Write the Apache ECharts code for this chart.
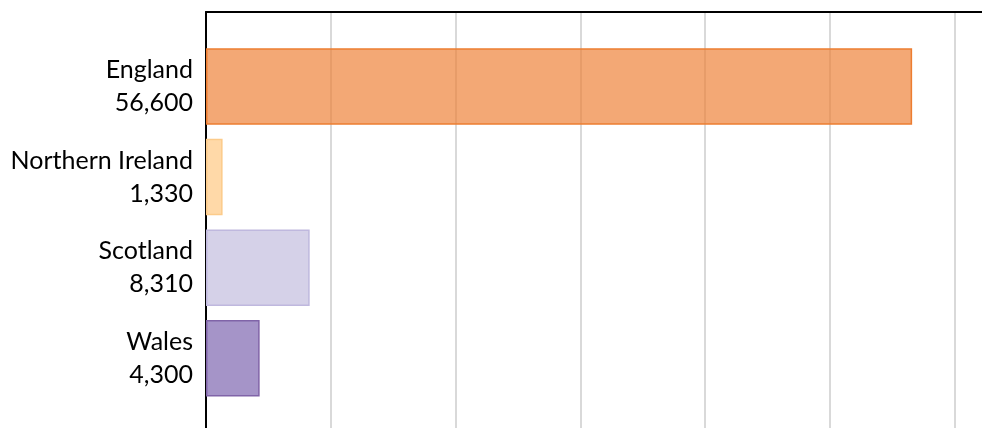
<!DOCTYPE html>
<html>
<head>
<meta charset="utf-8">
<script src="https://cdn.jsdelivr.net/npm/echarts@6/dist/echarts.min.js"></script>
<style>
html,body{margin:0;padding:0;background:#fff;}
#chart{width:982px;height:428px;}
</style>
</head>
<body>
<div id="chart"></div>
<script>
// ---- data ----
const categories = ['England', 'Northern Ireland', 'Scotland', 'Wales'];
const values = [56600, 1330, 8310, 4300];
const axisMax = 62200;
const axisInterval = 10000;

// ---- styles ----
const fills = ['rgba(237,125,49,0.67)', 'rgba(255,192,110,0.6)', '#D5D1E8', '#A594C8'];
const borders = ['#ED7D31', '#FCCB8A', '#BFB8DE', '#8064A8'];
const gridColors = ['#D9D9D9', '#D9D9D9', '#D9D9D9', '#D9D9D9', '#D9D9D9', '#D9D9D9', '#D9D9D9', 'rgba(0,0,0,0)'];

const fmt = v => v.toLocaleString('en-US');
const labelMap = {};
categories.forEach((c, i) => { labelMap[c] = c + '\n' + fmt(values[i]); });

const chart = echarts.init(document.getElementById('chart'), null, {renderer: 'canvas'});
const left = 206;
chart.setOption({
  animation: false,
  grid: [
    {left: left, right: 0, top: 12, bottom: 0, containLabel: false},
    {left: left, right: 0, top: 41.2, height: 362.4, containLabel: false}
  ],
  xAxis: [
    {gridIndex: 0, type: 'value', position: 'top', min: 0, max: axisMax, interval: axisInterval,
      axisLine: {show: true, onZero: false, lineStyle: {color: '#000', width: 2}},
      axisTick: {show: false}, axisLabel: {show: false},
      splitLine: {show: true, lineStyle: {color: gridColors, width: 2}}},
    {gridIndex: 1, type: 'value', min: 0, max: axisMax, interval: axisInterval, show: false,
      splitLine: {show: false}}
  ],
  yAxis: [
    {gridIndex: 0, type: 'value', min: 0, max: 1, position: 'left',
      axisLine: {show: true, onZero: false, lineStyle: {color: '#000', width: 2}},
      axisTick: {show: false}, axisLabel: {show: false}, splitLine: {show: false}},
    {gridIndex: 1, type: 'category', inverse: true, data: categories,
      axisLine: {show: false}, axisTick: {show: false},
      axisLabel: {show: true, margin: 13, color: '#000', fontFamily: 'Lato', fontSize: 25,
        lineHeight: 33, align: 'right',
        formatter: v => labelMap[v]}}
  ],
  series: [{
    type: 'bar', xAxisIndex: 1, yAxisIndex: 1,
    barWidth: 76.5,
    data: values.map((v, i) => ({
      value: v,
      itemStyle: {color: fills[i], borderColor: borders[i], borderWidth: 1.5}
    }))
  }]
});
</script>
</body>
</html>
